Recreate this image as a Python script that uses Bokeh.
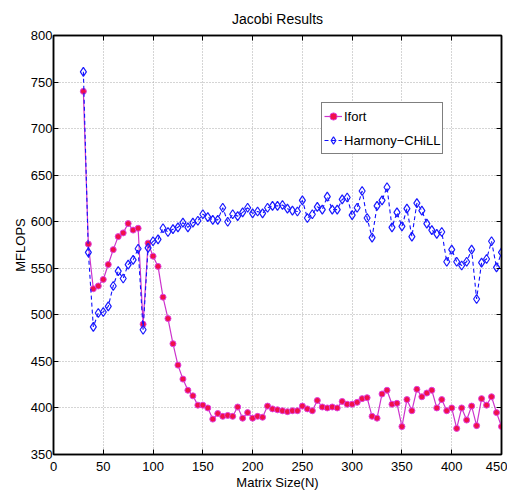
from bokeh.plotting import figure
from bokeh.models import (LinearAxis, Range1d, FixedTicker, Legend, LegendItem,
                          CustomJSTickFormatter, ColumnDataSource)
from bokeh.embed import file_html
from bokeh.resources import INLINE

# ---- data ----
matrix_size = [30, 35, 40, 45, 50, 55, 60, 65, 70, 75, 80, 85, 90, 95, 100,
               105, 110, 115, 120, 125, 130, 135, 140, 145, 150, 155, 160, 165, 170, 175,
               180, 185, 190, 195, 200, 205, 210, 215, 220, 225, 230, 235, 240, 245, 250,
               255, 260, 265, 270, 275, 280, 285, 290, 295, 300, 305, 310, 315, 320, 325,
               330, 335, 340, 345, 350, 355, 360, 365, 370, 375, 380, 385, 390, 395, 400,
               405, 410, 415, 420, 425, 430, 435, 440, 445, 450]

ifort = [740, 576, 528, 531, 538, 554, 570, 584, 588, 598, 591, 593, 490, 577, 563,
         552, 519, 496, 469, 446, 431, 419, 413, 403, 403, 400, 388, 394, 391, 392,
         391, 401, 389, 395, 389, 391, 390, 402, 399, 398, 397, 396, 397, 397, 402,
         399, 397, 408, 401, 400, 401, 400, 407, 404, 404, 406, 410, 411, 391, 389,
         415, 419, 404, 405, 380, 409, 397, 420, 412, 416, 419, 400, 409, 397, 400,
         378, 400, 387, 402, 381, 410, 403, 412, 395, 380]

harmony = [761, 567, 487, 502, 503, 509, 531, 547, 539, 554, 559, 571, 484, 572, 579,
           581, 593, 589, 592, 594, 599, 594, 599, 601, 608, 605, 602, 602, 615, 600,
           608, 606, 610, 615, 609, 611, 609, 615, 617, 617, 618, 614, 612, 611, 623,
           604, 608, 616, 613, 627, 613, 613, 624, 626, 607, 615, 633, 604, 583, 617,
           623, 637, 594, 610, 595, 614, 584, 620, 612, 598, 591, 587, 589, 557, 570,
           557, 553, 557, 570, 517, 556, 560, 579, 551, 567]

x_ticks = [0, 50, 100, 150, 200, 250, 300, 350, 400, 450]
y_ticks = [350, 400, 450, 500, 550, 600, 650, 700, 750, 800]

title_text = "Jacobi Results"
x_label = "Matrix Size(N)"
y_label = "MFLOPS"
series_names = ["Ifort", "Harmony\u2212CHiLL"]

FONT = "Liberation Sans"

src = ColumnDataSource(dict(n=matrix_size, ifort=ifort, harmony=harmony))

p = figure(width=507, height=494,
           x_range=Range1d(0, 450), y_range=Range1d(350, 800),
           output_backend="svg", toolbar_location=None,
           min_border_left=53, min_border_top=33, min_border_right=6, min_border_bottom=40,
           title=title_text, background_fill_color="white", border_fill_color="white")

p.title.text_font = FONT
p.title.text_font_size = "14px"
p.title.text_font_style = "normal"
p.title.text_color = "black"
p.title.align = "center"
p.title.standoff = 17

p.outline_line_color = "black"
p.outline_line_width = 1.5

for ax, ticks in ((p.xaxis[0], x_ticks), (p.yaxis[0], y_ticks)):
    ax.ticker = FixedTicker(ticks=ticks)
    ax.major_tick_in = 5
    ax.major_tick_out = 0
    ax.minor_tick_line_color = None
    ax.axis_line_width = 1.5
    ax.axis_line_color = "black"
    ax.major_tick_line_color = "black"
    ax.major_label_text_font = FONT
    ax.major_label_text_font_size = "13px"
    ax.major_label_text_color = "black"
    ax.axis_label_text_font = FONT
    ax.axis_label_text_font_size = "13px"
    ax.axis_label_text_font_style = "normal"
    ax.axis_label_text_color = "black"

p.xaxis.axis_label = x_label
p.yaxis.axis_label = y_label
p.xaxis.major_label_standoff = 7
p.xaxis.axis_label_standoff = 1
p.yaxis.major_label_standoff = 1
p.yaxis.axis_label_standoff = 0

for loc, ticks in (("above", x_ticks), ("right", y_ticks)):
    ax = LinearAxis(ticker=FixedTicker(ticks=ticks),
                    formatter=CustomJSTickFormatter(code="return ''"),
                    major_tick_in=5, major_tick_out=0, minor_tick_line_color=None,
                    major_label_standoff=0, axis_line_width=1.5, axis_line_color="black",
                    major_label_text_font_size="1px")
    p.add_layout(ax, loc)

p.grid.grid_line_color = "#aaaaaa"
p.grid.grid_line_dash = "1 2"
p.grid.grid_line_width = 1

l1 = p.line("n", "ifort", source=src, line_color="#cc33cc", line_width=1.2)
m1 = p.scatter("n", "ifort", source=src, marker="circle", size=6,
               fill_color="#f0104a", line_color="#e040e0", line_width=1)
l2 = p.line("n", "harmony", source=src, line_color="#1010ff", line_width=1.1,
            line_dash="4 3")
m2 = p.scatter("n", "harmony", source=src, marker="diamond", size=9,
               fill_color="white", fill_alpha=0, line_color="#1a1aff", line_width=1.2)

legend = Legend(items=[LegendItem(label=series_names[0], renderers=[l1, m1]),
                       LegendItem(label=series_names[1], renderers=[l2, m2])],
                location=(268, 300))
legend.label_text_font = FONT
legend.label_text_font_size = "13px"
legend.label_text_color = "black"
legend.border_line_color = "black"
legend.border_line_width = 1.5
legend.background_fill_color = "white"
legend.background_fill_alpha = 1
legend.glyph_width = 18
legend.glyph_height = 22
legend.label_height = 22
legend.label_standoff = 2
legend.spacing = 2
legend.padding = 2
legend.margin = 0
p.add_layout(legend, "center")

html = file_html(p, INLINE)
open("out.html", "w").write(html)
